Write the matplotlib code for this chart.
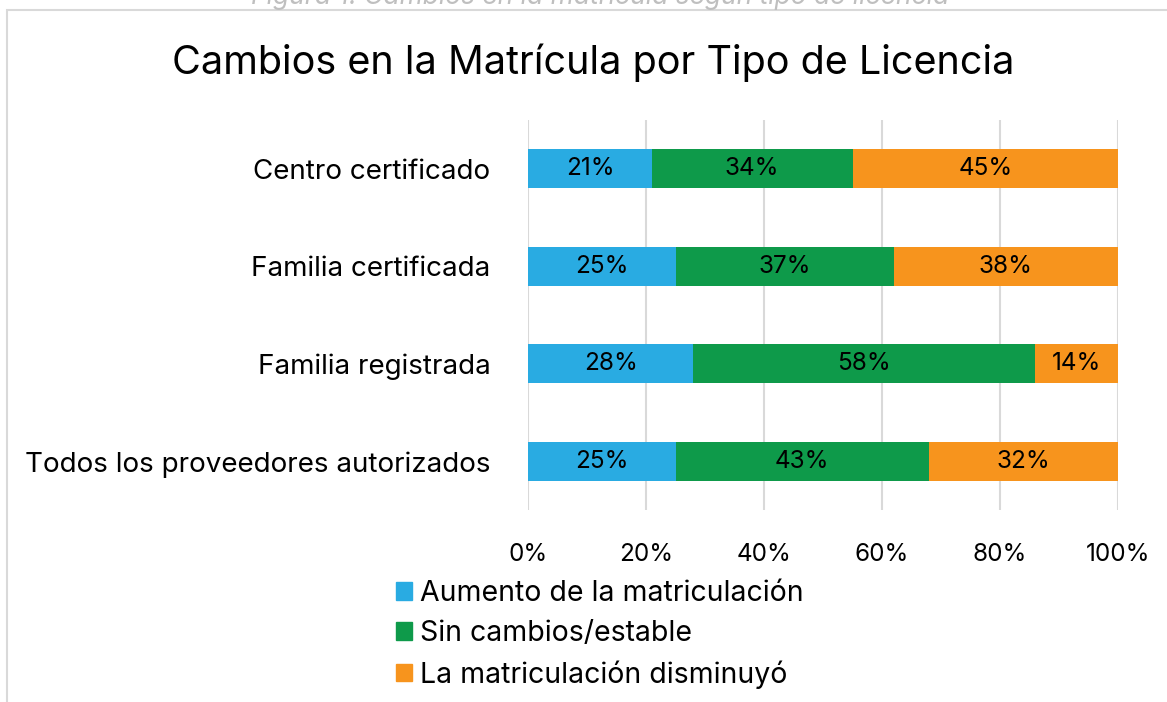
import numpy as np
import matplotlib.pyplot as plt
from matplotlib.patches import Rectangle, Patch

# data
categorias = ['Centro certificado', 'Familia certificada', 'Familia registrada',
              'Todos los proveedores autorizados']
series = ['Aumento de la matriculación', 'Sin cambios/estable',
          'La matriculación disminuyó']
aumento = [21, 25, 28, 25]
estable = [34, 37, 58, 43]
disminuyo = [45, 38, 14, 32]
colores = ['#29ABE2', '#0E9A4A', '#F7941D']
xticks = [0, 20, 40, 60, 80, 100]

plt.rcParams['font.family'] = ['Inter', 'DejaVu Sans']

W, H = 1167, 702
fig = plt.figure(figsize=(W / 100, H / 100), dpi=100)

# chart border and partly cut caption
fig.patches.append(Rectangle((7 / W, -0.1), 1.2, 1 - 10 / H + 0.1, transform=fig.transFigure,
                             fill=False, edgecolor='#d9d9d9', linewidth=1.5))
fig.text(600 / W, 1 - 4 / H, 'Figura 1: Cambios en la matrícula según tipo de licencia',
         ha='center', va='baseline', fontsize=19, style='italic', color='#bfbfbf')

ax = fig.add_axes([528 / W, 1 - 510 / H, 590 / W, 390 / H])

y = np.arange(len(categorias))
left = np.zeros(len(categorias))
for vals, nombre, c in zip([aumento, estable, disminuyo], series, colores):
    bars = ax.barh(y, vals, left=left, height=0.4, color=c, label=nombre, zorder=3)
    ax.bar_label(bars, labels=[f'{v}%' for v in vals], label_type='center',
                 fontsize=17.5, color='black')
    left += np.array(vals)

ax.set_xlim(0, 100)
ax.set_ylim(3.5, -0.5)
ax.set_yticks(y)
ax.set_yticklabels(categorias, fontsize=20)
ax.set_xticks(xticks)
ax.set_xticklabels([f'{t}%' for t in xticks], fontsize=17.5)
ax.tick_params(length=0, axis='y', pad=27)
ax.tick_params(length=0, axis='x', pad=24)
ax.grid(axis='x', color='#d9d9d9', linewidth=1.5, zorder=0)
for s in ax.spines.values():
    s.set_visible(False)

fig.text(593 / W, 1 - 63 / H, 'Cambios en la Matrícula por Tipo de Licencia',
         ha='center', va='center', fontsize=28.5)

handles = [Patch(color=c) for c in colores]
fig.legend(handles, series, loc='upper left', bbox_to_anchor=(396 / W, 1 - 580 / H),
           frameon=False, fontsize=20.5, handlelength=0.57, handleheight=0.57,
           handletextpad=0.28, labelspacing=0.46, borderpad=0, borderaxespad=0)

fig.savefig('out.png', dpi=100)
